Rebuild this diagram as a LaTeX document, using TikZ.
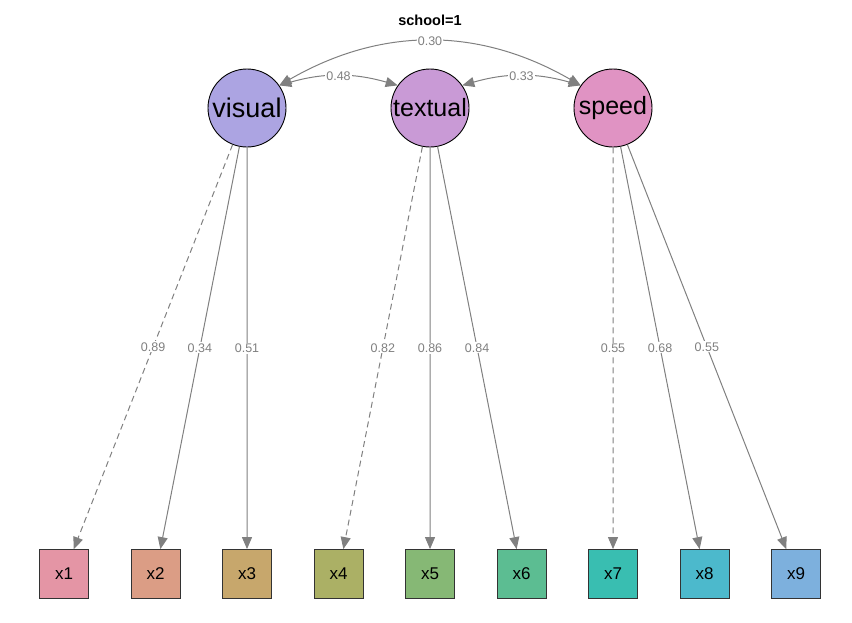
\documentclass[tikz,border=0pt]{standalone}
\usepackage{fontspec}
\setmainfont{Liberation Sans}
\usepackage{tikz}
\usetikzlibrary{shapes,positioning,calc}
\usetikzlibrary{arrows.meta}
\definecolor{edgegray}{HTML}{808080}
\definecolor{visualcol}{HTML}{ACA4E2}
\definecolor{textualcol}{HTML}{C99AD6}
\definecolor{speedcol}{HTML}{E093C3}
\definecolor{xonecol}{HTML}{E495A5}
\definecolor{xtwocol}{HTML}{DB9D85}
\definecolor{xthreecol}{HTML}{C7A76C}
\definecolor{xfourcol}{HTML}{ABB065}
\definecolor{xfivecol}{HTML}{86B875}
\definecolor{xsixcol}{HTML}{5CBD92}
\definecolor{xsevencol}{HTML}{39BEB1}
\definecolor{xeightcol}{HTML}{4CB9CC}
\definecolor{xninecol}{HTML}{7DB0DD}
\tikzstyle{loading} = [draw=edgegray, line width=1pt, -{Triangle[length=12pt,width=10pt]}]
\tikzstyle{cov} = [draw=edgegray, line width=1pt, {Triangle[length=12pt,width=10pt]}-{Triangle[length=12pt,width=10pt]}]

\begin{document}
\begin{tikzpicture}[x=1pt, y=1pt,
	latent/.style={circle, draw, line width=0.9pt, minimum size=78pt, inner sep=0pt, font=\fontsize{25}{25}\selectfont},
	manifest/.style={rectangle, draw=black!80, line width=0.8pt, minimum size=49pt, inner sep=0pt, font=\fontsize{17}{17}\selectfont},
	est/.style={fill=white, inner sep=1pt, text=edgegray, font=\fontsize{12.5}{12.5}\selectfont}]
			
			\useasboundingbox (0,0) rectangle (852,-622);
			
			% TITLE
			
			\node[font=\bfseries\fontsize{14.5}{14.5}\selectfont] (title) at (430,-20) {school=1};
			
			% LATENT VARIABLES
			
			\node[latent, fill=visualcol, font=\fontsize{27}{27}\selectfont] (visual) at (247,-108) {visual};
			\node[latent, fill=textualcol] (textual) at (430,-108) {textual};
			\node[latent, fill=speedcol] (speed) at (613,-108) {speed};
			
			% INDICATORS
			
			\node[manifest, fill=xonecol] (x1) at (64,-574) {x1};
			\node[manifest, fill=xtwocol, right=41.7pt of x1] (x2) {x2};
			\node[manifest, fill=xthreecol, right=41.7pt of x2] (x3) {x3};
			\node[manifest, fill=xfourcol, right=41.7pt of x3] (x4) {x4};
			\node[manifest, fill=xfivecol, right=41.7pt of x4] (x5) {x5};
			\node[manifest, fill=xsixcol, right=41.7pt of x5] (x6) {x6};
			\node[manifest, fill=xsevencol, right=41.7pt of x6] (x7) {x7};
			\node[manifest, fill=xeightcol, right=41.7pt of x7] (x8) {x8};
			\node[manifest, fill=xninecol, right=41.7pt of x8] (x9) {x9};
			
			% LOADINGS
			
			\draw[loading, dash pattern=on 6pt off 4pt] (visual) -- node[est] {0.89} (x1);
			\draw[loading] (visual) -- node[est] {0.34} (x2);
			\draw[loading] (visual) -- node[est] {0.51} (x3);
			\draw[loading, dash pattern=on 6pt off 4pt] (textual) -- node[est] {0.82} (x4);
			\draw[loading] (textual) -- node[est] {0.86} (x5);
			\draw[loading] (textual) -- node[est] {0.84} (x6);
			\draw[loading, dash pattern=on 6pt off 4pt] (speed) -- node[est] {0.55} (x7);
			\draw[loading] (speed) -- node[est] {0.68} (x8);
			\draw[loading] (speed) -- node[est] {0.55} (x9);
			
			% COVARIANCES
			
			\draw[cov] (visual.35) to[out=16, in=164] node[est] {0.48} (textual.145);
			\draw[cov] (textual.35) to[out=16, in=164] node[est] {0.33} (speed.145);
			\draw[cov] (visual.35) to[out=30, in=150] node[est] {0.30} (speed.145);
			
		 \end{tikzpicture}
\end{document}
